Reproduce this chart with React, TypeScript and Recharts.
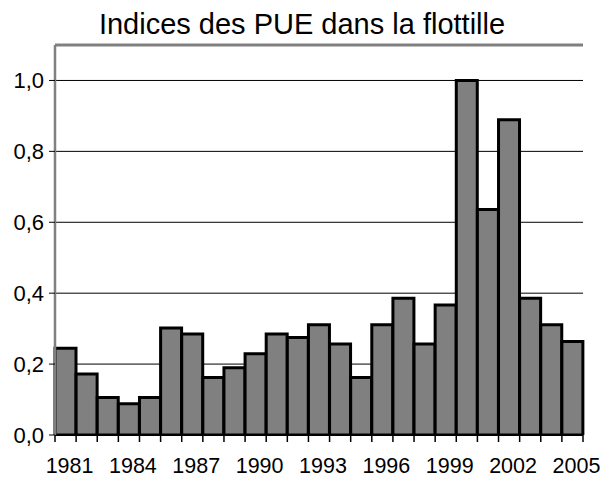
import React from 'react';
import { BarChart, Bar, XAxis, YAxis, CartesianGrid, ReferenceLine } from 'recharts';

const years = ['1981','1982','1983','1984','1985','1986','1987','1988','1989','1990','1991','1992','1993','1994','1995','1996','1997','1998','1999','2000','2001','2002','2003','2004','2005'];
const pue = [0.245,0.172,0.106,0.088,0.106,0.302,0.285,0.162,0.19,0.229,0.285,0.275,0.311,0.257,0.162,0.311,0.386,0.257,0.367,1.0,0.636,0.889,0.386,0.311,0.264];
const yTicks = [0, 0.2, 0.4, 0.6, 0.8, 1.0];
const title = 'Indices des PUE dans la flottille';

const data = years.map((y, i) => ({ year: y, value: pue[i] }));

const FONT = '"Liberation Sans", Arial, sans-serif';
const PLOT_LEFT = 55;
const PLOT_RIGHT = 583;
const BAND = (PLOT_RIGHT - PLOT_LEFT) / years.length;

const XTick = (props: any) => {
  const { x, y, payload } = props;
  const idx = payload.index;
  const left = x - BAND / 2;
  return (
    <g>
      <line x1={left} x2={left} y1={y} y2={y + 7} stroke="#000" strokeWidth={1.5} />
      {idx === years.length - 1 && (
        <line x1={x + BAND / 2} x2={x + BAND / 2} y1={y} y2={y + 7} stroke="#000" strokeWidth={1.5} />
      )}
      {idx % 3 === 0 && (
        <text x={x + 4} y={y + 38} textAnchor="middle" fontSize={21.5} fontFamily={FONT} fill="#000">
          {payload.value}
        </text>
      )}
    </g>
  );
};

export default function App() {
  return (
    <div style={{ position: 'absolute', left: 0, top: 0, width: 605, height: 478, background: '#fff' }}>
      <svg width={605} height={50} style={{ position: 'absolute', left: 0, top: 0 }}>
        <text x={302} y={34} textAnchor="middle" fontSize={29} fontFamily={FONT} fill="#000">{title}</text>
      </svg>
      <div style={{ position: 'absolute', left: 0, top: 0 }}>
        <BarChart
          width={605}
          height={478}
          data={data}
          margin={{ top: 45, right: 605 - PLOT_RIGHT, bottom: 0, left: 0 }}
          barCategoryGap={0}
          barGap={0}
        >
          <CartesianGrid horizontal vertical={false} stroke="#000" strokeWidth={1} />
          <XAxis
            dataKey="year"
            interval={0}
            tickLine={false}
            tickSize={0}
            tickMargin={0}
            tick={<XTick />}
            axisLine={{ stroke: '#000', strokeWidth: 2 }}
            height={43}
          />
          <YAxis
            domain={[0, 1.1]}
            ticks={yTicks}
            width={PLOT_LEFT}
            tickSize={6}
            tickMargin={5}
            tickFormatter={(v: number) => v.toFixed(1).replace('.', ',')}
            tick={{ fontSize: 22, fontFamily: FONT, fill: '#000' }}
            tickLine={{ stroke: '#000' }}
            axisLine={{ stroke: '#808080', strokeWidth: 2.5 }}
            allowDataOverflow
          />
          <YAxis
            yAxisId="right"
            orientation="right"
            width={0}
            tick={false}
            tickLine={false}
            axisLine={{ stroke: '#808080', strokeWidth: 2.5 }}
          />
          <ReferenceLine y={1.1} stroke="#808080" strokeWidth={3} />
          <Bar dataKey="value" fill="#808080" stroke="#000" strokeWidth={3} isAnimationActive={false} />
        </BarChart>
      </div>
    </div>
  );
}
